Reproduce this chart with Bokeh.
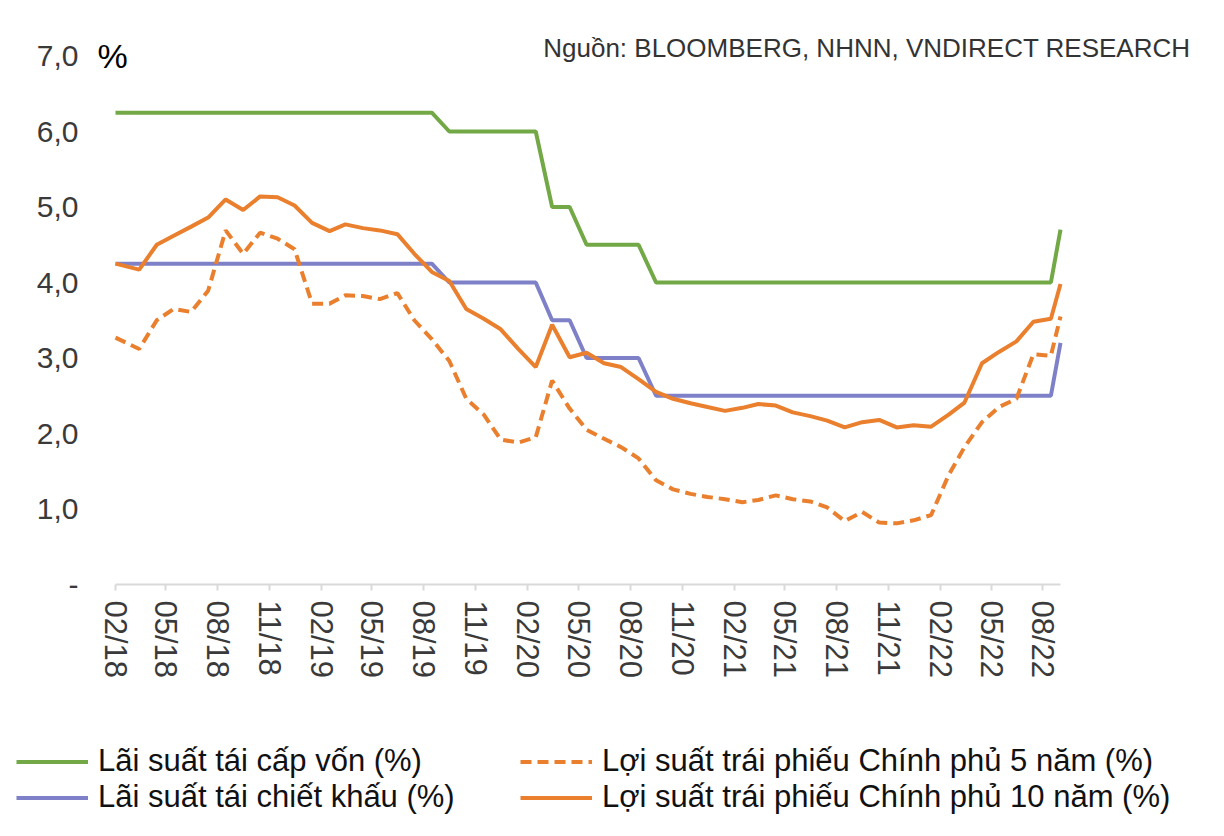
import pandas as pd
from bokeh.plotting import figure
from bokeh.layouts import column
from bokeh.models import (Range1d, FixedTicker, DatetimeTickFormatter, Legend,
                          LegendItem, Label, ColumnDataSource)
from bokeh.embed import file_html
from bokeh.resources import INLINE

# ---- data (monthly readings, Feb 2018 .. Sep 2022) ----
month_starts = pd.date_range("2018-02-01", "2022-09-01", freq="MS")
dates = ([month_starts[0]] + [d + pd.Timedelta(days=14) for d in month_starts[1:-1]]
         + [month_starts[-1]])

refinancing = [6.25, 6.25, 6.25, 6.25, 6.25, 6.25, 6.25, 6.25, 6.25, 6.25,
               6.25, 6.25, 6.25, 6.25, 6.25, 6.25, 6.25, 6.25, 6.25,
               6.0, 6.0, 6.0, 6.0, 6.0, 6.0,
               5.0, 5.0,
               4.5, 4.5, 4.5, 4.5,
               4.0, 4.0, 4.0, 4.0, 4.0, 4.0, 4.0, 4.0, 4.0, 4.0, 4.0, 4.0,
               4.0, 4.0, 4.0, 4.0, 4.0, 4.0, 4.0, 4.0, 4.0, 4.0, 4.0, 4.0,
               4.7]

discount = [4.25, 4.25, 4.25, 4.25, 4.25, 4.25, 4.25, 4.25, 4.25, 4.25,
            4.25, 4.25, 4.25, 4.25, 4.25, 4.25, 4.25, 4.25, 4.25,
            4.0, 4.0, 4.0, 4.0, 4.0, 4.0,
            3.5, 3.5,
            3.0, 3.0, 3.0, 3.0,
            2.5, 2.5, 2.5, 2.5, 2.5, 2.5, 2.5, 2.5, 2.5, 2.5, 2.5, 2.5,
            2.5, 2.5, 2.5, 2.5, 2.5, 2.5, 2.5, 2.5, 2.5, 2.5, 2.5, 2.5,
            3.2]

yield_5y = [3.27, 3.12, 3.50, 3.65, 3.61, 3.89, 4.69, 4.38, 4.66, 4.58,
            4.44, 3.72, 3.72, 3.83, 3.82, 3.78, 3.86, 3.50, 3.25, 2.96,
            2.46, 2.25, 1.92, 1.88, 1.95, 2.70, 2.33, 2.05, 1.93, 1.82,
            1.67, 1.38, 1.26, 1.20, 1.16, 1.13, 1.09, 1.12, 1.18, 1.13,
            1.10, 1.02, 0.84, 0.96, 0.82, 0.81, 0.85, 0.92, 1.45, 1.82,
            2.15, 2.35, 2.46, 3.05, 3.03, 3.55]

yield_10y = [4.25, 4.17, 4.50, 4.62, 4.74, 4.86, 5.10, 4.96, 5.14, 5.13,
             5.02, 4.79, 4.68, 4.77, 4.72, 4.69, 4.64, 4.38, 4.14, 4.02,
             3.65, 3.52, 3.38, 3.12, 2.88, 3.44, 3.01, 3.07, 2.93, 2.88,
             2.72, 2.55, 2.46, 2.40, 2.35, 2.30, 2.34, 2.39, 2.37, 2.28,
             2.23, 2.17, 2.08, 2.15, 2.18, 2.08, 2.11, 2.09, 2.25, 2.41,
             2.93, 3.08, 3.22, 3.48, 3.52, 3.98]

y_ticks = [0, 1, 2, 3, 4, 5, 6, 7]
y_labels = ["-", "1,0", "2,0", "3,0", "4,0", "5,0", "6,0", "7,0"]

names = ["Lãi suất tái cấp vốn (%)", "Lãi suất tái chiết khấu (%)",
         "Lợi suất trái phiếu Chính phủ 5 năm (%)",
         "Lợi suất trái phiếu Chính phủ 10 năm (%)"]

FONT = "Liberation Sans"
GREEN = "#72A946"
BLUE = "#7E81C8"
ORANGE = "#EA7F2E"
DASH = "11 6"

W = 1216
H_MAIN = 700
H_LEG = 128

src = ColumnDataSource(dict(date=dates, refi=refinancing, disc=discount,
                            y5=yield_5y, y10=yield_10y))

# x range: frame is a bit wider than the data span so that header texts fit inside
ms0 = month_starts[0].value / 1e6
ms1 = month_starts[-1].value / 1e6
px_per_ms = (1060 - 115) / (ms1 - ms0)
x_start = ms0 - (115 - 95) / px_per_ms
x_end = ms1 + (1198 - 1060) / px_per_ms
y_end = 7 + (55.5 - 30) / 75.5

p = figure(width=W, height=H_MAIN, x_axis_type="datetime", title=None,
           output_backend="svg", toolbar_location=None,
           x_range=Range1d(x_start, x_end), y_range=Range1d(0, y_end),
           min_border_left=95, min_border_right=W - 1198,
           min_border_top=30, min_border_bottom=H_MAIN - 584)
p.outline_line_color = None
p.xgrid.visible = False
p.ygrid.visible = False
p.frame_align = False

r_refi = p.line("date", "refi", source=src, line_color=GREEN, line_width=4)
r_disc = p.line("date", "disc", source=src, line_color=BLUE, line_width=4)
r_5y = p.line("date", "y5", source=src, line_color=ORANGE, line_width=4,
              line_dash=DASH)
r_10y = p.line("date", "y10", source=src, line_color=ORANGE, line_width=4)

# x axis
tick_ms = [int(d.value // 10**6) for d in month_starts[::3]]
p.xaxis.ticker = FixedTicker(ticks=tick_ms)
p.xaxis.bounds = (ms0, ms1)
p.xaxis.formatter = DatetimeTickFormatter(days="%m/%y", months="%m/%y",
                                          years="%m/%y")
p.xaxis.major_label_orientation = "vertical"
p.xaxis.axis_line_color = "#D9D9D9"
p.xaxis.axis_line_width = 2
p.xaxis.major_tick_line_color = "#D9D9D9"
p.xaxis.major_tick_line_width = 2
p.xaxis.major_tick_out = 6
p.xaxis.major_tick_in = 0
p.xaxis.minor_tick_line_color = None
p.xaxis.major_label_standoff = 10
p.xaxis.major_label_text_font = FONT
p.xaxis.major_label_text_font_size = "31px"
p.xaxis.major_label_text_color = "#3A3A3A"

# y axis
p.yaxis.ticker = FixedTicker(ticks=y_ticks)
p.yaxis.major_label_overrides = {t: l for t, l in zip(y_ticks, y_labels)}
p.yaxis.axis_line_color = None
p.yaxis.major_tick_line_color = None
p.yaxis.minor_tick_line_color = None
p.yaxis.major_tick_out = 0
p.yaxis.major_tick_in = 0
p.yaxis.major_label_standoff = 17
p.yaxis.major_label_text_font = FONT
p.yaxis.major_label_text_font_size = "30px"
p.yaxis.major_label_text_color = "#3A3A3A"

# header texts (inside the frame)
p.add_layout(Label(x=2, y=529, x_units="screen", y_units="screen", text="%",
                   text_font=FONT, text_font_size="34px", text_color="black",
                   text_baseline="middle", text_align="left"))
p.add_layout(Label(x=1095, y=537, x_units="screen", y_units="screen",
                   text="Nguồn: BLOOMBERG, NHNN, VNDIRECT RESEARCH",
                   text_font=FONT, text_font_size="26px", text_color="#333333",
                   text_baseline="middle", text_align="right"))

# legend figure: the same series, drawn outside its (empty) view, only for the legend
lg_fig = figure(width=W, height=H_LEG, title=None, output_backend="svg",
                toolbar_location=None, x_axis_location=None,
                y_axis_location=None, x_range=Range1d(0, 1),
                y_range=Range1d(0, 1), min_border=0)
lg_fig.outline_line_color = None
lg_fig.grid.visible = False
lg_fig.frame_align = False
g1 = lg_fig.line("date", "refi", source=src, line_color=GREEN, line_width=4)
g2 = lg_fig.line("date", "disc", source=src, line_color=BLUE, line_width=4)
g3 = lg_fig.line("date", "y5", source=src, line_color=ORANGE, line_width=4,
                 line_dash=DASH)
g4 = lg_fig.line("date", "y10", source=src, line_color=ORANGE, line_width=4)

legend = Legend(items=[LegendItem(label=names[0], renderers=[g1]),
                       LegendItem(label=names[1], renderers=[g2]),
                       LegendItem(label=names[2], renderers=[g3]),
                       LegendItem(label=names[3], renderers=[g4])],
                location=(16, 13), orientation="vertical", ncols=2,
                background_fill_alpha=0, border_line_color=None,
                padding=0, margin=0, spacing=0,
                glyph_width=72, glyph_height=35, label_height=35,
                label_width=422, label_standoff=10, label_text_font=FONT,
                label_text_font_size="31px", label_text_color="#111111")
lg_fig.add_layout(legend)

layout = column(p, lg_fig, spacing=0)
open("out.html", "w").write(file_html(layout, INLINE))
